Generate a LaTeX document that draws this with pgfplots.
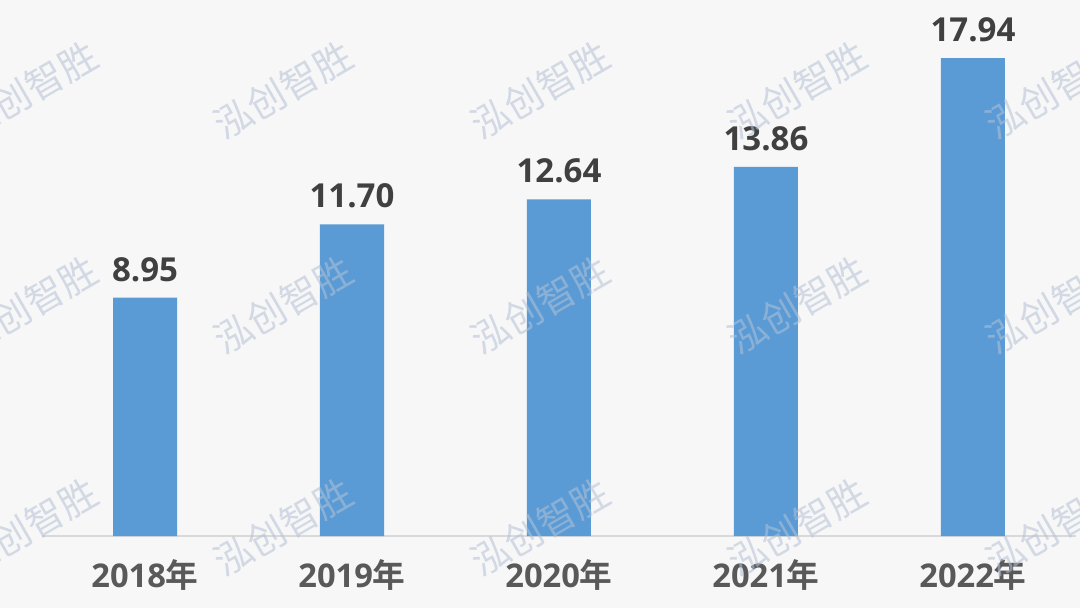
\documentclass[border=0pt]{standalone}
\usepackage{pgfplots}
\pgfplotsset{compat=1.18}
\usepackage{fontspec}
\setmainfont{Open Sans}
\newfontfamily\cjk{Noto Sans CJK SC}[BoldFont={Noto Sans CJK SC Bold}]
\definecolor{barc}{HTML}{5B9BD5}
\definecolor{bgc}{HTML}{F7F7F7}
\definecolor{axisc}{HTML}{D9D9D9}
\definecolor{valc}{HTML}{404040}
\definecolor{tickc}{HTML}{595959}
\definecolor{wmc}{HTML}{B4C2D6}

\begin{document}
\begin{tikzpicture}
\useasboundingbox (0,0) rectangle (10.8cm,6.08cm);
\clip (0,0) rectangle (10.8cm,6.08cm);
\fill[bgc] (0,0) rectangle (10.8cm,6.08cm);

\begin{axis}[
    at={(0.415cm,0.72cm)}, anchor=south west,
    scale only axis,
    width=10.35cm, height=5.328cm,
    xmin=-0.5, xmax=4.5,
    ymin=0, ymax=20,
    ybar, bar width=0.64cm,
    axis x line=bottom, axis y line=none,
    x axis line style={draw=axisc, line width=0.5pt, -},
    xtick=data,
    xticklabels={2018{\cjk 年},2019{\cjk 年},2020{\cjk 年},2021{\cjk 年},2022{\cjk 年}},
    major tick length=0pt,
    xticklabel style={font=\bfseries\fontsize{9.3}{11}\selectfont, text=tickc, anchor=base, yshift=-0.51cm},
    nodes near coords,
    point meta=explicit symbolic,
    every node near coord/.append style={font=\bfseries\fontsize{9.4}{11}\selectfont, text=valc, anchor=base, yshift=0.165cm},
    clip=false,
]
\addplot[fill=barc, draw=none] coordinates {
    (0,8.95) [8.95]
    (1,11.70) [11.70]
    (2,12.64) [12.64]
    (3,13.86) [13.86]
    (4,17.94) [17.94]
};
\end{axis}

% watermark
\foreach \wx in {0.28,2.83,5.40,7.97,10.55}{
  \foreach \wy in {5.18,3.03,0.81}{
    \node[rotate=30, text=wmc, opacity=0.55, inner sep=0pt,
          font=\cjk\fontsize{10.8}{12}\selectfont] at (\wx cm,\wy cm) {泓创智胜};
  }
}
\end{tikzpicture}
\end{document}
